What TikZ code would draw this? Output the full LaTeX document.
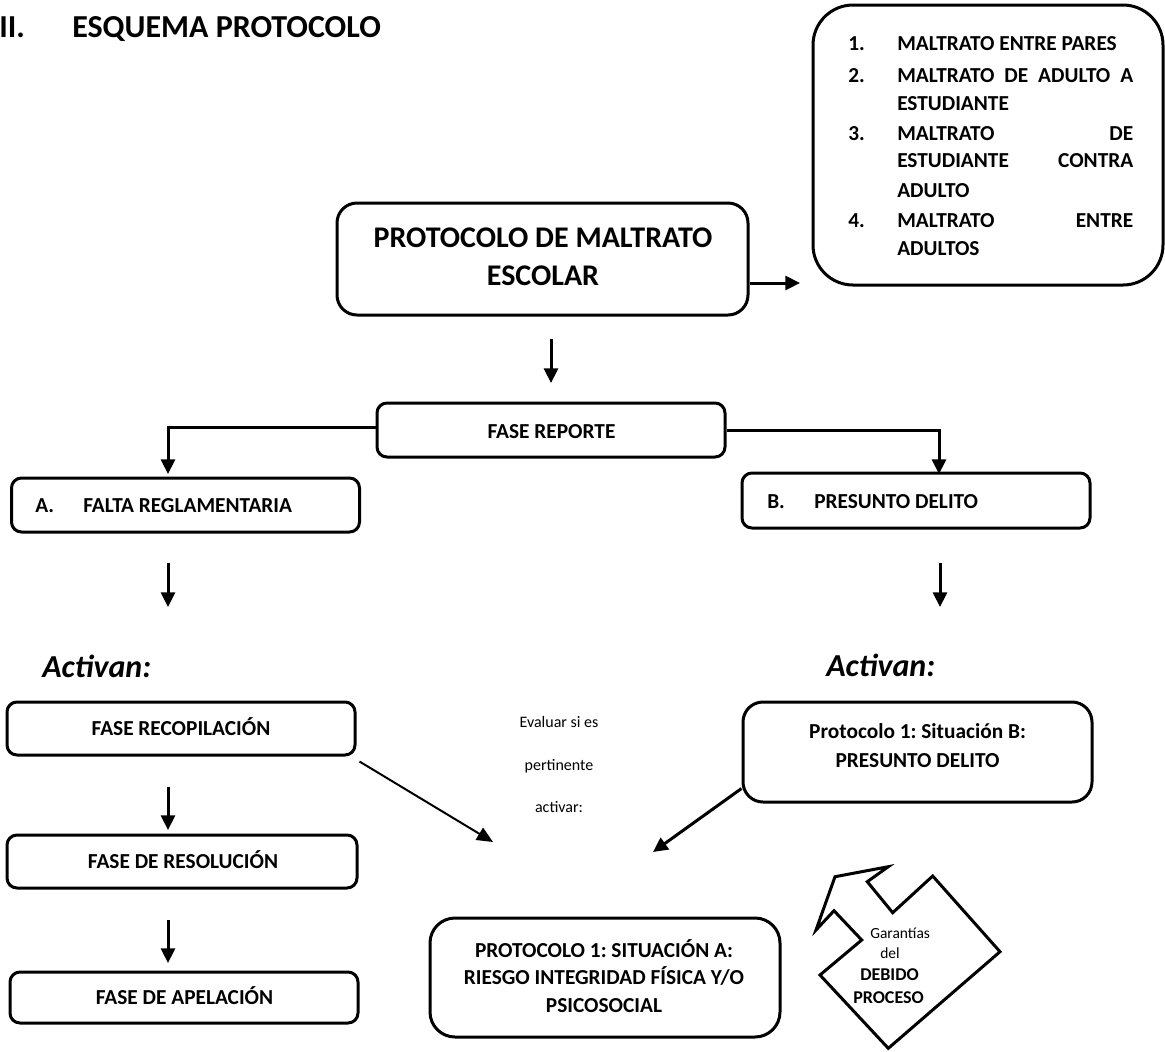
\documentclass[tikz,border=0pt]{standalone}
\usepackage{fontspec}
\setmainfont{Carlito}
\usetikzlibrary{arrows.meta,calc}
\frenchspacing
\tikzset{
  box/.style={draw, line width=2.25pt, rounded corners=7.5pt, inner sep=0pt, minimum width=261pt, minimum height=40.5pt},
  arr/.style={line width=2.25pt, -{Triangle[length=11pt,width=10.5pt]}},
  thinarr/.style={line width=1.5pt, -{Triangle[length=12pt,width=10.5pt]}},
  txt/.style={inner sep=0pt, anchor=base, font=\fontsize{16}{19}\selectfont\bfseries},
  txtw/.style={txt, anchor=base west},
  bigtxt/.style={inner sep=0pt, anchor=base, font=\fontsize{22.5}{26}\selectfont\bfseries},
  titletxt/.style={inner sep=0pt, anchor=base west, font=\fontsize{24}{28}\selectfont\bfseries},
  acttxt/.style={inner sep=0pt, anchor=base west, font=\fontsize{24}{28}\selectfont\bfseries\itshape},
  smalltxt/.style={inner sep=0pt, anchor=base, font=\fontsize{12}{14}\selectfont},
}
\begin{document}
\frenchspacing
\begin{tikzpicture}[x=0.75pt,y=-0.75pt]
\useasboundingbox (0,0) rectangle (1165,1051);

% title
\node[titletxt] (t1) at (-1,37) {II.};
\node[titletxt] (t2) at (72,37) {ESQUEMA PROTOCOLO};

% list box
\node[box, rounded corners=30pt, minimum width=262.5pt, minimum height=210pt] (types) at (988,145) {};
\node[txtw] (n1) at (848,50) {1.};
\node[txtw] (l1) at (897,50) {MALTRATO ENTRE PARES};
\node[txtw] (n2) at (848,82) {2.};
\node[txtw] (l2) at (897,82) {\makebox[177pt][l]{MALTRATO\hfill DE\hfill ADULTO\hfill A}};
\node[txtw] (l3) at (897,110) {ESTUDIANTE};
\node[txtw] (n3) at (848,140) {3.};
\node[txtw] (l4) at (897,140) {\makebox[177pt][l]{MALTRATO\hfill DE}};
\node[txtw] (l5) at (897,167) {\makebox[177pt][l]{ESTUDIANTE\hfill CONTRA}};
\node[txtw] (l6) at (897,197) {ADULTO};
\node[txtw] (n4) at (848,227) {4.};
\node[txtw] (l7) at (897,227) {\makebox[177pt][l]{MALTRATO\hfill ENTRE}};
\node[txtw] (l8) at (897,255) {ADULTOS};

% main box
\node[box, rounded corners=15pt, minimum width=308.25pt, minimum height=84pt] (main) at (542.5,259) {};
\node[bigtxt] (m1) at (543,247) {PROTOCOLO DE MALTRATO};
\node[bigtxt] (m2) at (543,285) {ESCOLAR};

% fase reporte
\node[box] (reporte) at (551,430) {};
\node[txt] (rt) at (551.5,438) {FASE REPORTE};

% A and B
\node[box] (A) at (185.5,505) {};
\node[txtw] (At1) at (35,512) {A.};
\node[txtw] (At2) at (83,512) {FALTA REGLAMENTARIA};
\node[box, minimum height=41.25pt] (B) at (916,500.5) {};
\node[txtw] (Bt1) at (767,508) {B.};
\node[txtw] (Bt2) at (814,508) {PRESUNTO DELITO};

% Activan
\node[acttxt] (act1) at (42,677) {Activan:};
\node[acttxt] (act2) at (826,676) {Activan:};

% left column
\node[box, minimum height=39.75pt] (recop) at (181,728.5) {};
\node[txt] (rct) at (181,735) {FASE RECOPILACIÓN};
\node[box, minimum width=262.5pt, minimum height=39.75pt] (resol) at (182,861.5) {};
\node[txt] (rst) at (183,868) {FASE DE RESOLUCIÓN};
\node[box, minimum height=38.25pt] (apel) at (184,997.5) {};
\node[txt] (apt) at (184.5,1004) {FASE DE APELACIÓN};

% evaluar text
\node[smalltxt] (e1) at (559,727) {Evaluar si es};
\node[smalltxt] (e2) at (559,770) {pertinente};
\node[smalltxt] (e3) at (559,812) {activar:};

% situacion B
\node[box, rounded corners=15pt, minimum width=261.75pt, minimum height=75pt] (sitB) at (917.5,752) {};
\node[txt] (sb1) at (917.5,738) {Protocolo 1: Situación B:};
\node[txt] (sb2) at (917.5,767) {PRESUNTO DELITO};

% situacion A
\node[box, rounded corners=18.75pt, minimum width=262.5pt, minimum height=89.25pt] (sitA) at (605,977.5) {};
\node[txt] (sa1) at (604,957) {PROTOCOLO 1: SITUACIÓN A:};
\node[txt] (sa2) at (604,984) {RIESGO INTEGRIDAD FÍSICA Y/O};
\node[txt] (sa3) at (604,1012) {PSICOSOCIAL};

% garantias shape
\draw[line width=2.25pt, line join=miter] (835,876.7) -- (888.3,866.7) -- (867.3,881.7) -- (892.7,912.7) -- (932.7,876) -- (1000,951.7) -- (888.3,1048.3) -- (820,975) -- (861.7,940) -- (834,910.7) -- (816,930) -- cycle;
\node[inner sep=0pt, anchor=base west, font=\fontsize{11.6}{14}\selectfont] (g1) at (870,938) {Garantías};
\node[inner sep=0pt, anchor=base west, font=\fontsize{11.6}{14}\selectfont] (g2) at (880,958) {del};
\node[inner sep=0pt, anchor=base west, font=\fontsize{13.5}{16}\selectfont\bfseries] (g3) at (860,980) {DEBIDO};
\node[inner sep=0pt, anchor=base west, font=\fontsize{13.5}{16}\selectfont\bfseries] (g4) at (853,1003) {PROCESO};

% coordinates for free ends
\coordinate (tipL) at (800,283);
\coordinate (d1s) at (551,339);
\coordinate (d1e) at (551,383);
\coordinate (tipA) at (168,474);
\coordinate (tipB) at (939,474);
\coordinate (d2s) at (168,563);
\coordinate (d2e) at (168,607);
\coordinate (d3s) at (940,563);
\coordinate (d3e) at (940,607);
\coordinate (d4s) at (168,787);
\coordinate (d4e) at (168,830);
\coordinate (d5s) at (168,920);
\coordinate (d5e) at (168,963);
\coordinate (midL) at (493,842);
\coordinate (midR) at (653,852);

% connectors
\draw[arr] (main.east |- tipL) -- (tipL);
\draw[arr] (d1s) -- (d1e);
\draw[arr] ($(reporte.west)+(0,-3)$) -| (tipA);
\draw[arr] (reporte.east) -| (tipB);
\draw[arr] (d2s) -- (d2e);
\draw[arr] (d3s) -- (d3e);
\draw[arr] (d4s) -- (d4e);
\draw[arr] (d5s) -- (d5e);
\draw[thinarr] ($(recop.south east)+(3,5)$) -- (midL);
\draw[arr] ($(sitB.south west)+(0,-15)$) -- (midR);
\end{tikzpicture}
\end{document}
